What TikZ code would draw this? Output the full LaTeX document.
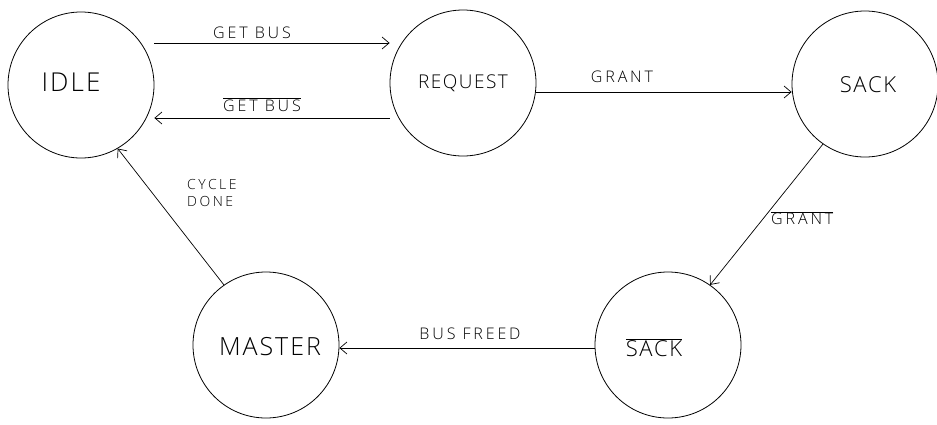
\documentclass[tikz,border=0pt]{standalone}
\usepackage{fontspec}
\setmainfont{Open Sans}
\newfontfamily\handfont[LetterSpace=8]{Open Sans Light}
\newfontfamily\lblfont[LetterSpace=18]{Open Sans Light}
\usetikzlibrary{arrows.meta}
\begin{document}
\begin{tikzpicture}[x=1pt,y=-1pt,
  state/.style={circle,draw,line width=0.8pt,minimum size=146pt,inner sep=0pt},
  edge/.style={line width=0.7pt,-{Straight Barb[length=7pt,width=12pt]}},
  lbl/.style={font=\lblfont\fontsize{16}{18}\selectfont,inner sep=1pt},
  txt/.style={font=\handfont\fontsize{#1}{#1}\selectfont,inner sep=0pt}]
\useasboundingbox (0,0) rectangle (937,424);
\node[state] (idle) at (81,85) {};
\node[state] (req) at (463,83) {};
\node[state] (sack) at (865,84) {};
\node[state] (nsack) at (668,345) {};
\node[state] (master) at (266,345) {};
\node[txt=26] at (71,82) {IDLE};
\node[txt=19] at (463,83) {REQUEST};
\node[txt=22] at (868,85) {SACK};
\node[txt=22] at (654,348) {$\overline{\mbox{SACK}}$};
\node[txt=25] at (270,347) {MASTER};
\draw[edge] (idle.east |- 0,43) -- (req.west |- 0,43);
\node[lbl,anchor=south] at (252,40) {GET BUS};
\draw[edge] (req.west |- 0,118) -- (idle.east |- 0,118);
\node[lbl,anchor=south] at (262,113) {$\overline{\mbox{GET BUS}}$};
\draw[edge] (req.east |- 0,92) -- (sack.west |- 0,92);
\node[lbl,anchor=south] at (622,84) {GRANT};
\draw[edge] (sack.235) -- (nsack.55);
\node[lbl,anchor=west] at (770,218) {$\overline{\mbox{GRANT}}$};
\draw[edge] (nsack.west |- 0,348) -- (master.east |- 0,348);
\node[lbl,anchor=south] at (470,341) {BUS FREED};
\draw[edge] (master.125) -- (idle.300);
\node[lbl,anchor=west,align=left,font=\lblfont\fontsize{14}{17}\selectfont] at (186,193) {CYCLE\\DONE};
\end{tikzpicture}
\end{document}
